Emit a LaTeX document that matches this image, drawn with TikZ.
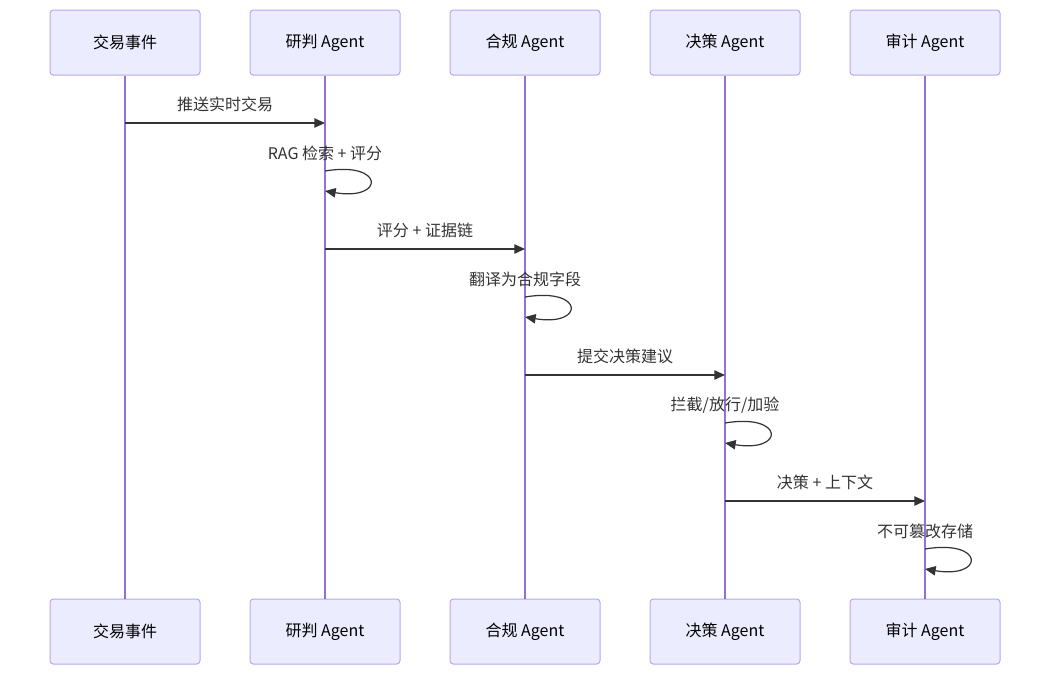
\documentclass[tikz,border=0pt]{standalone}
\usepackage{fontspec}
\setmainfont{Noto Sans CJK SC}
\usepackage{tikz}
\usetikzlibrary{arrows.meta,positioning,calc}

\definecolor{actfill}{HTML}{ECECFF}
\definecolor{actline}{HTML}{B9A6EC}
\definecolor{lifeline}{HTML}{9370DB}
\definecolor{msg}{HTML}{333333}

\begin{document}
\begin{tikzpicture}[
  x=0.75pt, y=-0.75pt,
  node distance=36.75pt and 36.75pt,
  actor/.style={draw=actline, fill=actfill, rounded corners=2.5pt, line width=0.75pt,
                minimum width=112.5pt, minimum height=48.75pt, inner sep=0pt,
                font=\fontsize{12}{14}\selectfont, text=black},
  life/.style={draw=lifeline, line width=1.5pt},
  arr/.style={-{Triangle[length=8pt, width=7pt]}, draw=msg, line width=1pt},
  loop/.style={-{Triangle[length=8pt, width=7pt]}, draw=msg, line width=0.9pt},
  lbl/.style={font=\fontsize{12}{14}\selectfont, text=msg, inner sep=0pt}
]
  \useasboundingbox (0,0) rectangle (1051,675);

  % participants, top row
  \node[actor] (ev)  at (125,42.5) {交易事件};
  \node[actor, right=of ev]  (res) {研判 Agent};
  \node[actor, right=of res] (cmp) {合规 Agent};
  \node[actor, right=of cmp] (dec) {决策 Agent};
  \node[actor, right=of dec] (aud) {审计 Agent};

  % participants, bottom row
  \node[actor, below=392.25pt of ev]  (ev-b)  {交易事件};
  \node[actor, below=392.25pt of res] (res-b) {研判 Agent};
  \node[actor, below=392.25pt of cmp] (cmp-b) {合规 Agent};
  \node[actor, below=392.25pt of dec] (dec-b) {决策 Agent};
  \node[actor, below=392.25pt of aud] (aud-b) {审计 Agent};

  % lifelines
  \foreach \p in {ev,res,cmp,dec,aud}
    \draw[life] (\p.south) -- (\p-b.north);

  % messages
  \coordinate (m1a) at (ev |- 0,123);
  \coordinate (m1b) at (res |- 0,123);
  \draw[arr] (m1a) -- (m1b);
  \node[lbl] (t1) at (225,104) {推送实时交易};

  \coordinate (s1a) at (res |- 0,171);
  \coordinate (s1b) at (res |- 0,191);
  \draw[loop] (s1a) .. controls ($(s1a)+(60,-10)$) and ($(s1b)+(60,10)$) .. (s1b);
  \node[lbl] (t2) at (325,153) {RAG 检索 + 评分};

  \coordinate (m2a) at (res |- 0,249);
  \coordinate (m2b) at (cmp |- 0,249);
  \draw[arr] (m2a) -- (m2b);
  \node[lbl] (t3) at (425,230) {评分 + 证据链};

  \coordinate (s2a) at (cmp |- 0,297);
  \coordinate (s2b) at (cmp |- 0,317);
  \draw[loop] (s2a) .. controls ($(s2a)+(60,-10)$) and ($(s2b)+(60,10)$) .. (s2b);
  \node[lbl] (t4) at (525,279) {翻译为合规字段};

  \coordinate (m3a) at (cmp |- 0,375);
  \coordinate (m3b) at (dec |- 0,375);
  \draw[arr] (m3a) -- (m3b);
  \node[lbl] (t5) at (625,356) {提交决策建议};

  \coordinate (s3a) at (dec |- 0,423);
  \coordinate (s3b) at (dec |- 0,443);
  \draw[loop] (s3a) .. controls ($(s3a)+(60,-10)$) and ($(s3b)+(60,10)$) .. (s3b);
  \node[lbl] (t6) at (725,405) {拦截/放行/加验};

  \coordinate (m4a) at (dec |- 0,501);
  \coordinate (m4b) at (aud |- 0,501);
  \draw[arr] (m4a) -- (m4b);
  \node[lbl] (t7) at (825,482) {决策 + 上下文};

  \coordinate (s4a) at (aud |- 0,549);
  \coordinate (s4b) at (aud |- 0,569);
  \draw[loop] (s4a) .. controls ($(s4a)+(60,-10)$) and ($(s4b)+(60,10)$) .. (s4b);
  \node[lbl] (t8) at (925,531) {不可篡改存储};
\end{tikzpicture}
\end{document}
